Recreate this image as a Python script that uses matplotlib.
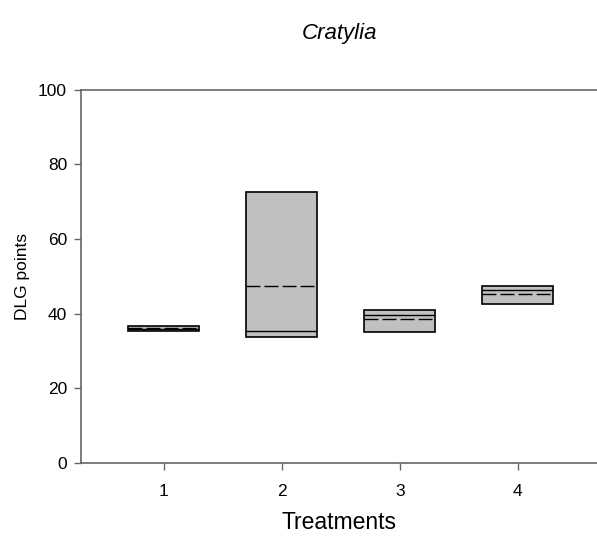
import matplotlib
matplotlib.use('Agg')
import matplotlib.pyplot as plt

treatments = [1, 2, 3, 4]
q1 = [35.4, 33.7, 35.0, 42.6]
q3 = [36.8, 72.6, 40.9, 47.4]
medians = [35.8, 35.3, 39.6, 46.3]
means = [36.2, 47.3, 38.5, 45.2]

plt.rcParams['font.family'] = ['Liberation Sans', 'DejaVu Sans']

fig = plt.figure(figsize=(5.97, 5.38), dpi=100)
ax = fig.add_axes([0.1357, 0.1394, 0.8643, 0.6942])

# boxes only: whiskers collapse onto the quartiles
stats = []
for i in range(len(treatments)):
    stats.append({'med': medians[i], 'q1': q1[i], 'q3': q3[i],
                  'whislo': q1[i], 'whishi': q3[i], 'mean': means[i],
                  'fliers': []})

ax.bxp(stats, positions=treatments, widths=0.6, patch_artist=True,
       showcaps=False, showfliers=False, showmeans=True, meanline=True,
       boxprops=dict(facecolor='#c0c0c0', edgecolor='black', linewidth=1.2),
       medianprops=dict(color='black', linewidth=1),
       meanprops=dict(color='black', linewidth=1, linestyle=(0, (10, 3))),
       whiskerprops=dict(linewidth=0))

ax.set_xlim(0.3, 4.67)
ax.set_ylim(0, 100)
ax.set_yticks([0, 20, 40, 60, 80, 100])
ax.set_xticks(treatments)
ax.set_xticklabels([str(t) for t in treatments])

for side in ['left', 'top', 'bottom']:
    ax.spines[side].set_color('#666666')
    ax.spines[side].set_linewidth(1.2)
ax.spines['right'].set_visible(False)
ax.tick_params(direction='out', length=5, width=1, color='#666666', labelsize=12.5)
ax.tick_params(axis='x', pad=10)
ax.tick_params(axis='y', pad=5)

ax.set_ylabel('DLG points', fontsize=12.5, labelpad=6)
ax.set_xlabel('Treatments', fontsize=16.5, labelpad=9)
fig.text(340 / 597, 1 - 33 / 538, 'Cratylia', fontsize=16, style='italic',
         ha='center', va='center')

fig.savefig('out.png', dpi=100)
